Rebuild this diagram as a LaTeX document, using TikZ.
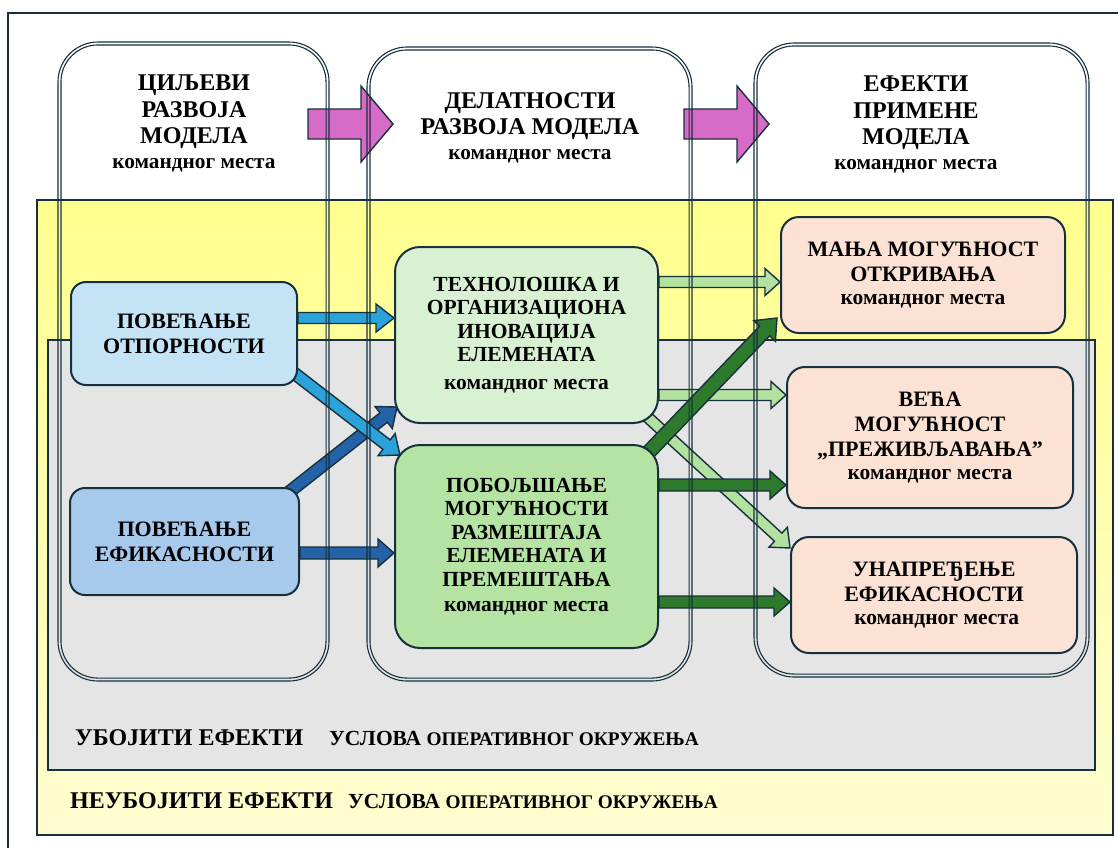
\documentclass[tikz,border=0pt]{standalone}
\usepackage{fontspec}
\setmainfont{Liberation Serif}
\usetikzlibrary{calc}

\definecolor{ink}{HTML}{17303E}
\definecolor{ylwtop}{HTML}{FFFF8E}
\definecolor{ylwbot}{HTML}{FFFDD0}
\definecolor{grayfill}{HTML}{E5E5E5}
\definecolor{resfill}{HTML}{C4E4F5}
\definecolor{efffill}{HTML}{A6C9EC}
\definecolor{techfill}{HTML}{D9F1D3}
\definecolor{mobfill}{HTML}{B4E3A3}
\definecolor{peach}{HTML}{FBE2D5}
\definecolor{pinkarrow}{HTML}{D76CC8}
\definecolor{lblue}{HTML}{2CA2DA}
\definecolor{dblue}{HTML}{2362A7}
\definecolor{lgreen}{HTML}{B3E2A0}
\definecolor{dgreen}{HTML}{2E7A2C}

\pgfdeclarelayer{back}
\pgfdeclarelayer{arr}
\pgfsetlayers{back,arr,main}

% fonts
\newcommand\hdbig{\fontsize{24}{26.5}\selectfont\bfseries}
\newcommand\hdsmall{\fontsize{21.3}{26.5}\selectfont\bfseries}
\newcommand\bxbig{\fontsize{21.5}{23.5}\selectfont\bfseries}
\newcommand\bxmid{\fontsize{22}{25}\selectfont\bfseries}
\newcommand\bxsmall{\fontsize{21.5}{23.5}\selectfont\bfseries}

% block arrow: style, from, to, shaft half width, head half width, head length
\newcommand\bkarrow[6]{%
  \coordinate (bkh) at ($(#3)!#6!(#2)$);
  \path[#1] ($(#2)!#4!90:(#3)$) -- ($(bkh)!#4!90:(#3)$) -- ($(bkh)!#5!90:(#3)$)
    -- (#3) -- ($(bkh)!#5!-90:(#3)$) -- ($(bkh)!#4!-90:(#3)$)
    -- ($(#2)!#4!-90:(#3)$) -- cycle;
}

\tikzset{
  txt/.style={inner sep=0pt, align=center, text=black},
  box/.style={draw=ink, line width=2pt, align=center, inner sep=0pt, text=black},
  colline/.style={draw=ink, line width=1.1pt},
  arredge/.style={draw=ink, line width=1.4pt, line join=miter},
  pinkarr/.style={arredge, fill=pinkarrow},
  lbluearr/.style={arredge, fill=lblue},
  dbluearr/.style={arredge, fill=dblue},
  lgreenarr/.style={arredge, fill=lgreen},
  dgreenarr/.style={arredge, fill=dgreen},
}

\begin{document}
\begin{tikzpicture}[x=1pt,y=-1pt]
\useasboundingbox (0,0) rectangle (1118,847);

% outer frame
\draw[draw=ink, line width=2pt] (8,13) rectangle (1135,870);

% environment areas
\begin{pgfonlayer}{back}
  \fill[top color=ylwtop, bottom color=ylwbot] (37,200) rectangle (1113,835);
  \draw[draw=ink, line width=2pt] (37,200) rectangle (1113,835);
  \filldraw[fill=grayfill, draw=ink, line width=2pt] (48,340) rectangle (1095,770);
\end{pgfonlayer}

% three columns (double outline)
\node[colline, rounded corners=40pt, minimum width=271pt, minimum height=639pt, inner sep=0pt] (colA) at (193.5,361.5) {};
\node[colline, rounded corners=40pt, minimum width=325pt, minimum height=634pt, inner sep=0pt] (colB) at (529.5,364) {};
\node[colline, rounded corners=40pt, minimum width=335pt, minimum height=634pt, inner sep=0pt] (colC) at (921.5,360) {};
\foreach \c in {colA,colB,colC}{
  \draw[colline, rounded corners=37pt] ([shift={(3.5,3.5)}]\c.north west) rectangle ([shift={(-3.5,-3.5)}]\c.south east);
}

% column headings
\node[txt, anchor=north, font=\hdbig] (hdA) at (194,75)
  {ЦИЉЕВИ\\РАЗВОЈА\\МОДЕЛА\\[-2pt]{\hdsmall командног места}};
\node[txt, anchor=north, font=\hdbig] (hdB) at (530,92)
  {ДЕЛАТНОСТИ\\РАЗВОЈА МОДЕЛА\\[-2pt]{\hdsmall командног места}};
\node[txt, anchor=north, font=\hdbig] (hdC) at (916,76)
  {ЕФЕКТИ\\ПРИМЕНЕ\\МОДЕЛА\\[-2pt]{\hdsmall командног места}};

% boxes
\node[box, fill=resfill, rounded corners=15pt, minimum width=226pt, minimum height=103pt, font=\bxmid] (res) at (184,333.5)
  {ПОВЕЋАЊЕ\\ОТПОРНОСТИ};
\node[box, fill=efffill, rounded corners=15pt, minimum width=229pt, minimum height=107pt, font=\bxmid] (eff) at (184.5,541.5)
  {ПОВЕЋАЊЕ\\ЕФИКАСНОСТИ};
\node[box, fill=techfill, rounded corners=25pt, minimum width=263pt, minimum height=176pt, font=\bxbig] (tech) at (526.5,335)
  {ТЕХНОЛОШКА И\\ОРГАНИЗАЦИОНА\\ИНОВАЦИЈА\\ЕЛЕМЕНАТА\\[4pt]{\bxsmall командног места}};
\node[box, fill=mobfill, rounded corners=25pt, minimum width=263pt, minimum height=203pt, font=\bxbig] (mob) at (526.5,546.5)
  {ПОБОЉШАЊЕ\\МОГУЋНОСТИ\\РАЗМЕШТАЈА\\ЕЛЕМЕНАТА И\\ПРЕМЕШТАЊА\\[2pt]{\bxsmall командног места}};
\node[box, fill=peach, rounded corners=18pt, minimum width=284pt, minimum height=116pt, font=\bxmid] (det) at (923,275)
  {МАЊА МОГУЋНОСТ\\ОТКРИВАЊА\\[-2pt]{\bxsmall командног места}};
\node[box, fill=peach, rounded corners=18pt, minimum width=286pt, minimum height=141pt, font=\bxmid] (surv) at (930,437.5)
  {ВЕЋА\\МОГУЋНОСТ\\„ПРЕЖИВЉАВАЊА”\\[-2pt]{\bxsmall командног места}};
\node[box, fill=peach, rounded corners=18pt, minimum width=286pt, minimum height=116pt, font=\bxmid] (impr) at (934,595)
  {УНАПРЕЂЕЊЕ\\ЕФИКАСНОСТИ\\[-2pt]{\bxsmall\ командног места}};

% environment labels
\node[txt, anchor=base west, font=\fontsize{24}{26}\selectfont\bfseries] (labA) at (75,745) {УБОЈИТИ ЕФЕКТИ};
\node[txt, anchor=base west, font=\fontsize{21.5}{24}\selectfont\bfseries] (labAc) at (329,745)
  {УСЛОВА {\fontsize{19.3}{22}\selectfont ОПЕРАТИВНОГ ОКРУЖЕЊА}};
\node[txt, anchor=base west, font=\fontsize{24}{26}\selectfont\bfseries] (labB) at (70,808) {НЕУБОЈИТИ ЕФЕКТИ};
\node[txt, anchor=base west, font=\fontsize{21.5}{24}\selectfont\bfseries] (labBc) at (348,808)
  {УСЛОВА {\fontsize{19.3}{22}\selectfont ОПЕРАТИВНОГ ОКРУЖЕЊА}};

% connectors
\begin{pgfonlayer}{arr}
  % flow between the columns
  \coordinate (p1s) at (308,124);  \coordinate (p1t) at (393,124);
  \coordinate (p2s) at (684,124);  \coordinate (p2t) at (769,124);
  \bkarrow{pinkarr}{p1s}{p1t}{15pt}{38pt}{32pt}
  \bkarrow{pinkarr}{p2s}{p2t}{15pt}{38pt}{32pt}

  % goals to activities
  \coordinate (a1s) at (res.east |- 0,318);  \coordinate (a1t) at (tech.west |- 0,318);
  \coordinate (a2s) at (290,370);            \coordinate (a2t) at (400,455);
  \coordinate (a3s) at (284,496);            \coordinate (a3t) at (397,407);
  \coordinate (a4s) at (eff.east |- 0,553);  \coordinate (a4t) at (mob.west |- 0,553);
  \bkarrow{dbluearr}{a3s}{a3t}{6pt}{14pt}{17pt}
  \bkarrow{lbluearr}{a2s}{a2t}{6pt}{14pt}{17pt}
  \bkarrow{lbluearr}{a1s}{a1t}{5.5pt}{14pt}{18pt}
  \bkarrow{dbluearr}{a4s}{a4t}{6pt}{14pt}{16pt}

  % activities to effects
  \coordinate (g1s) at (tech.east |- 0,282); \coordinate (g1t) at (det.west |- 0,282);
  \coordinate (g2s) at (tech.east |- 0,395); \coordinate (g2t) at (surv.west |- 0,395);
  \coordinate (g3s) at (642,412);            \coordinate (g3t) at (790,548);
  \coordinate (d1s) at (645,456);            \coordinate (d1t) at (777,318);
  \coordinate (d2s) at (mob.east |- 0,485);  \coordinate (d2t) at (surv.west |- 0,485);
  \coordinate (d3s) at (mob.east |- 0,602);  \coordinate (d3t) at (impr.west |- 0,602);
  \bkarrow{lgreenarr}{g1s}{g1t}{5.5pt}{13.5pt}{15pt}
  \bkarrow{lgreenarr}{g2s}{g2t}{5.5pt}{13.5pt}{15pt}
  \bkarrow{lgreenarr}{g3s}{g3t}{5.5pt}{13.5pt}{16pt}
  \bkarrow{dgreenarr}{d1s}{d1t}{7pt}{15pt}{18pt}
  \bkarrow{dgreenarr}{d2s}{d2t}{6pt}{14pt}{16pt}
  \bkarrow{dgreenarr}{d3s}{d3t}{6pt}{14pt}{16pt}
\end{pgfonlayer}
\end{tikzpicture}
\end{document}
